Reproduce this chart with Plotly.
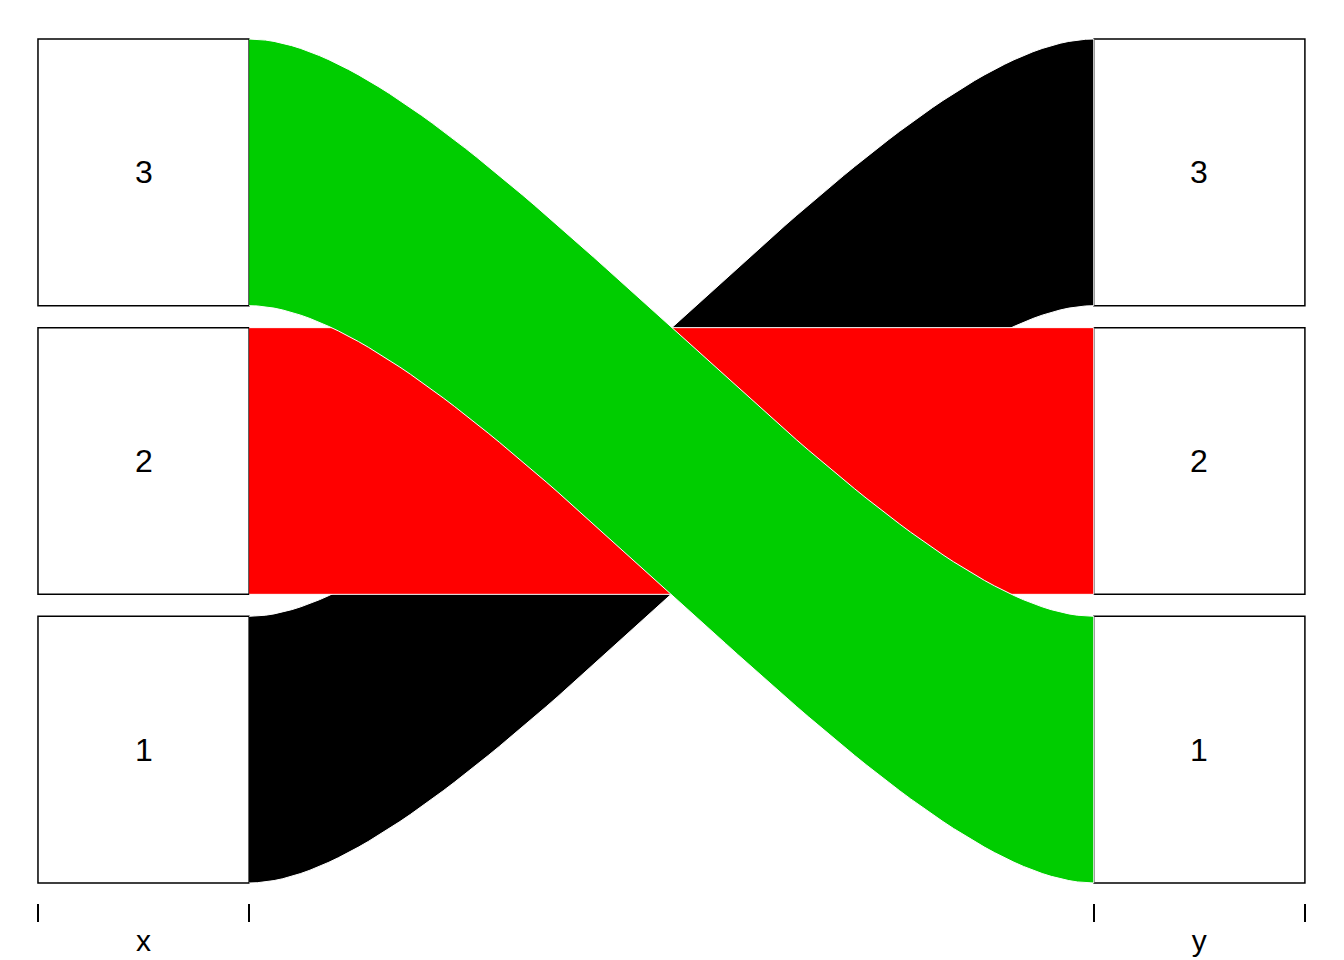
import numpy as np
import plotly.graph_objects as go

# alluvial data: one flow per row
x_cat = ["1", "2", "3"]
y_cat = ["3", "2", "1"]
freq = [1, 1, 1]
flow_colors = ["#000000", "#FF0000", "#00CD00"]

axis_names = ["x", "y"]
categories = ["1", "2", "3"]

cw = 0.1          # half width of a box
gap = 0.0824      # gap between boxes (in freq units)
bend = 0.25       # bezier handle as fraction of flow length


def stack_axis(own, other):
    """lower/upper y of every flow at one axis"""
    lo = [0.0] * len(own)
    hi = [0.0] * len(own)
    base = 0.0
    boxes = {}
    for c in categories:
        idx = [i for i in range(len(own)) if own[i] == c]
        idx.sort(key=lambda i: categories.index(other[i]))
        start = base
        for i in idx:
            lo[i] = base
            hi[i] = base + freq[i]
            base += freq[i]
        boxes[c] = (start, base)
        base += gap
    return lo, hi, boxes


xl_lo, xl_hi, x_boxes = stack_axis(x_cat, y_cat)
yr_lo, yr_hi, y_boxes = stack_axis(y_cat, x_cat)


def curve(xa, ya, xb, yb, n=80):
    t = np.linspace(0, 1, n)
    d = (xb - xa) * bend
    px = [xa, xa + d, xb - d, xb]
    py = [ya, ya, yb, yb]
    bx = (1 - t)**3 * px[0] + 3 * (1 - t)**2 * t * px[1] + 3 * (1 - t) * t**2 * px[2] + t**3 * px[3]
    by = (1 - t)**3 * py[0] + 3 * (1 - t)**2 * t * py[1] + 3 * (1 - t) * t**2 * py[2] + t**3 * py[3]
    return bx, by


fig = go.Figure()

x_left = 1 + cw
x_right = 2 - cw
for i in range(len(freq)):
    tx, ty = curve(x_left, xl_hi[i], x_right, yr_hi[i])
    bx, by = curve(x_right, yr_lo[i], x_left, xl_lo[i])
    fig.add_trace(go.Scatter(
        x=np.concatenate([tx, bx]), y=np.concatenate([ty, by]),
        fill="toself", fillcolor=flow_colors[i], mode="lines",
        line=dict(color="white", width=1), hoverinfo="skip", showlegend=False
    ))

# boxes and their labels
for k, boxes in enumerate([x_boxes, y_boxes]):
    xc = k + 1
    for c, (b0, b1) in boxes.items():
        fig.add_shape(type="rect", x0=xc - cw, x1=xc + cw, y0=b0, y1=b1, layer="below",
                      line=dict(color="black", width=1.5), fillcolor="white")
        fig.add_annotation(x=xc, y=(b0 + b1) / 2, text=c, showarrow=False,
                           yanchor="middle",
                           font=dict(size=32, color="black", family="Liberation Sans"))

fig.update_xaxes(
    range=[0.8716, 2.1446], tickvals=[1, 2], ticktext=axis_names,
    ticks="", showline=False, zeroline=False, showgrid=False,
    ticklabelstandoff=17,
    tickfont=dict(size=30, color="black", family="Liberation Sans"),
    minor=dict(tickvals=[1 - cw, 1 + cw, 2 - cw, 2 + cw], ticks="outside",
               ticklen=18, tickwidth=1.5, tickcolor="black", showgrid=False)
)
fig.update_yaxes(range=[-0.075, 3.281], visible=False)

fig.update_layout(
    width=1344, height=960,
    margin=dict(l=0, r=0, t=0, b=65),
    plot_bgcolor="white", paper_bgcolor="white"
)

fig.write_html("out.html")
